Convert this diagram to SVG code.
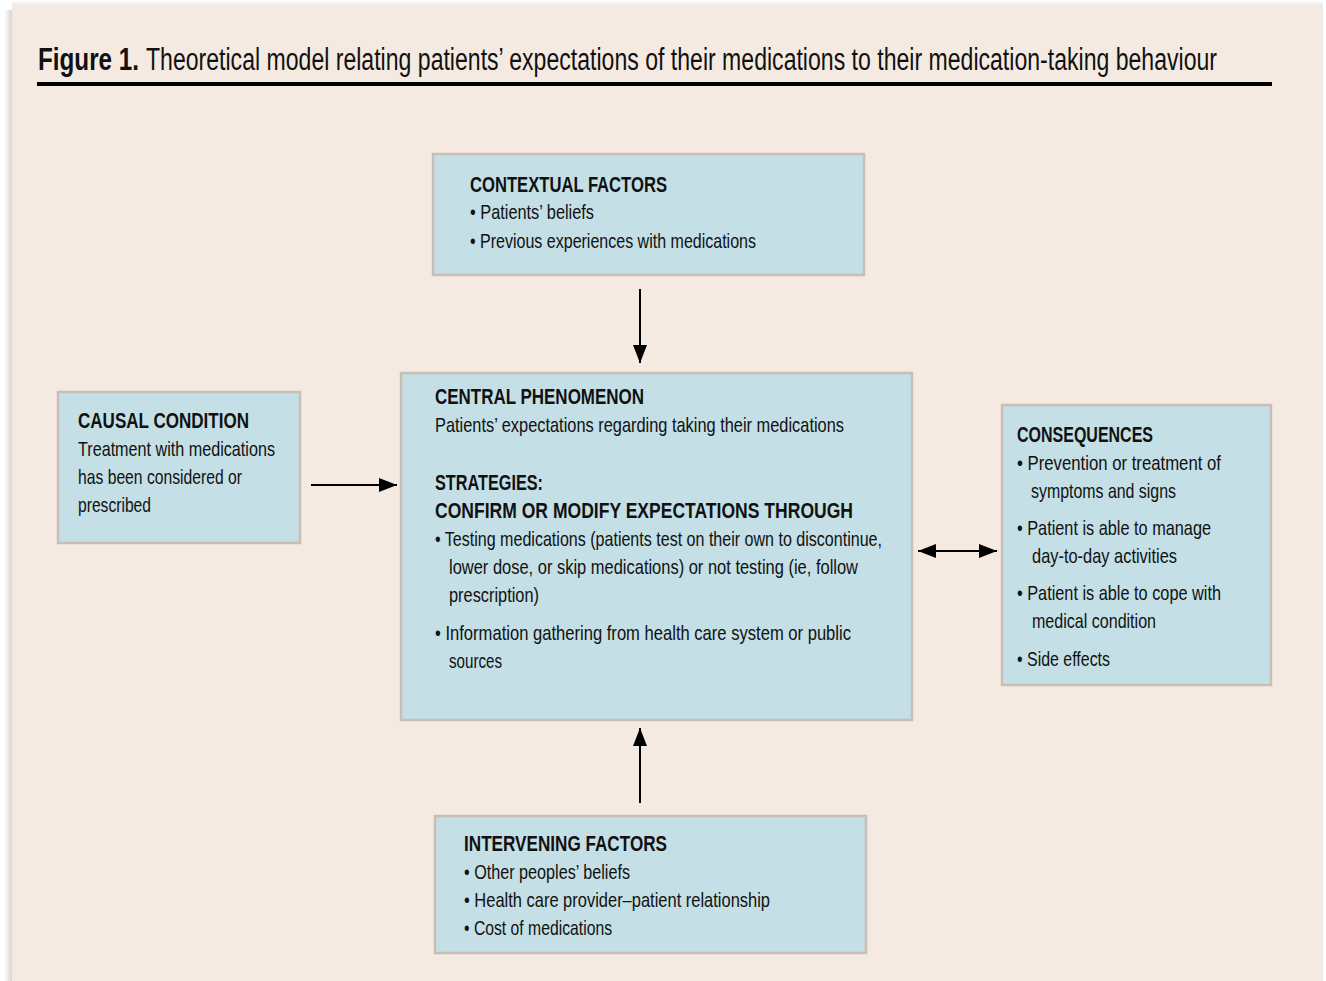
<svg xmlns="http://www.w3.org/2000/svg" width="1326" height="981" viewBox="0 0 1326 981">
<defs>
<style>
.box{fill:#c4dfe5;stroke:#c9beb6;stroke-width:2.5}
text{font-family:"Liberation Sans","Arial",sans-serif;fill:#111}
.h{font-size:22px;font-weight:bold}
.t{font-size:21px}
.conn line{stroke:#000;stroke-width:2}
</style>
<marker id="ah" viewBox="0 0 18 14" refX="18" refY="7" markerWidth="18" markerHeight="14" markerUnits="userSpaceOnUse" orient="auto-start-reverse">
<path d="M0,0 L18,7 L0,14 z" fill="#000"/>
</marker>
<linearGradient id="sh" x1="0" x2="1" y1="0" y2="0">
<stop offset="0" stop-color="#ffffff"/>
<stop offset="1" stop-color="#cfcfcf"/>
</linearGradient>
<linearGradient id="sht" x1="0" x2="0" y1="0" y2="1">
<stop offset="0" stop-color="#ffffff"/>
<stop offset="1" stop-color="#e4e4e4"/>
</linearGradient>
</defs>
<rect x="0" y="0" width="1326" height="981" fill="#ffffff"/>
<rect x="4" y="10" width="9" height="971" fill="url(#sh)"/>
<rect x="12" y="0" width="1311" height="7" fill="url(#sht)"/>
<rect x="12" y="6" width="1311" height="975" fill="#f5eae2"/>

<g id="title">
<text transform="translate(38,70) scale(0.783,1)" x="0" y="0" style="font-size:31px;font-weight:bold" textLength="129" lengthAdjust="spacingAndGlyphs">Figure 1.</text>
<text transform="translate(146,70) scale(0.68,1)" x="0" y="0" style="font-size:31px" textLength="1575" lengthAdjust="spacingAndGlyphs">Theoretical model relating patients’ expectations of their medications to their medication-taking behaviour</text>
<rect x="37" y="82" width="1235" height="4" fill="#000"/>
</g>

<g id="contextual">
<rect class="box" x="433" y="154" width="431" height="121"/>
<text class="h" x="470" y="192" textLength="197" lengthAdjust="spacingAndGlyphs">CONTEXTUAL FACTORS</text>
<text class="t" x="470" y="219" textLength="124" lengthAdjust="spacingAndGlyphs">• Patients’ beliefs</text>
<text class="t" x="470" y="248" textLength="286" lengthAdjust="spacingAndGlyphs">• Previous experiences with medications</text>
</g>

<g id="causal">
<rect class="box" x="58" y="392" width="242" height="151"/>
<text class="h" x="78" y="428" textLength="171" lengthAdjust="spacingAndGlyphs">CAUSAL CONDITION</text>
<text class="t" x="78" y="456" textLength="197" lengthAdjust="spacingAndGlyphs">Treatment with medications</text>
<text class="t" x="78" y="484" textLength="164" lengthAdjust="spacingAndGlyphs">has been considered or</text>
<text class="t" x="78" y="512" textLength="73" lengthAdjust="spacingAndGlyphs">prescribed</text>
</g>

<g id="central">
<rect class="box" x="401" y="373" width="511" height="347"/>
<text class="h" x="435" y="404" textLength="209" lengthAdjust="spacingAndGlyphs">CENTRAL PHENOMENON</text>
<text class="t" x="435" y="432" textLength="409" lengthAdjust="spacingAndGlyphs">Patients’ expectations regarding taking their medications</text>
<text class="h" x="435" y="490" textLength="108" lengthAdjust="spacingAndGlyphs">STRATEGIES:</text>
<text class="h" x="435" y="518" textLength="418" lengthAdjust="spacingAndGlyphs">CONFIRM OR MODIFY EXPECTATIONS THROUGH</text>
<text class="t" x="435" y="546" textLength="447" lengthAdjust="spacingAndGlyphs">• Testing medications (patients test on their own to discontinue,</text>
<text class="t" x="449" y="574" textLength="409" lengthAdjust="spacingAndGlyphs">lower dose, or skip medications) or not testing (ie, follow</text>
<text class="t" x="449" y="602" textLength="90" lengthAdjust="spacingAndGlyphs">prescription)</text>
<text class="t" x="435" y="640" textLength="416" lengthAdjust="spacingAndGlyphs">• Information gathering from health care system or public</text>
<text class="t" x="449" y="668" textLength="53" lengthAdjust="spacingAndGlyphs">sources</text>
</g>

<g id="consequences">
<rect class="box" x="1002" y="405" width="269" height="280"/>
<text class="h" x="1017" y="442" textLength="136" lengthAdjust="spacingAndGlyphs">CONSEQUENCES</text>
<text class="t" x="1017" y="470" textLength="204" lengthAdjust="spacingAndGlyphs">• Prevention or treatment of</text>
<text class="t" x="1031" y="498" textLength="145" lengthAdjust="spacingAndGlyphs">symptoms and signs</text>
<text class="t" x="1017" y="535" textLength="194" lengthAdjust="spacingAndGlyphs">• Patient is able to manage</text>
<text class="t" x="1032" y="563" textLength="145" lengthAdjust="spacingAndGlyphs">day-to-day activities</text>
<text class="t" x="1017" y="600" textLength="204" lengthAdjust="spacingAndGlyphs">• Patient is able to cope with</text>
<text class="t" x="1032" y="628" textLength="124" lengthAdjust="spacingAndGlyphs">medical condition</text>
<text class="t" x="1017" y="666" textLength="93" lengthAdjust="spacingAndGlyphs">• Side effects</text>
</g>

<g id="intervening">
<rect class="box" x="435" y="816" width="431" height="137"/>
<text class="h" x="464" y="851" textLength="203" lengthAdjust="spacingAndGlyphs">INTERVENING FACTORS</text>
<text class="t" x="464" y="879" textLength="166" lengthAdjust="spacingAndGlyphs">• Other peoples’ beliefs</text>
<text class="t" x="464" y="907" textLength="306" lengthAdjust="spacingAndGlyphs">• Health care provider–patient relationship</text>
<text class="t" x="464" y="935" textLength="148" lengthAdjust="spacingAndGlyphs">• Cost of medications</text>
</g>

<g id="connectors" class="conn">
<line x1="640" y1="289" x2="640" y2="363" marker-end="url(#ah)"/>
<line x1="311" y1="485" x2="397" y2="485" marker-end="url(#ah)"/>
<line x1="918" y1="551" x2="997" y2="551" marker-start="url(#ah)" marker-end="url(#ah)"/>
<line x1="640" y1="803" x2="640" y2="728" marker-end="url(#ah)"/>
</g>
</svg>
